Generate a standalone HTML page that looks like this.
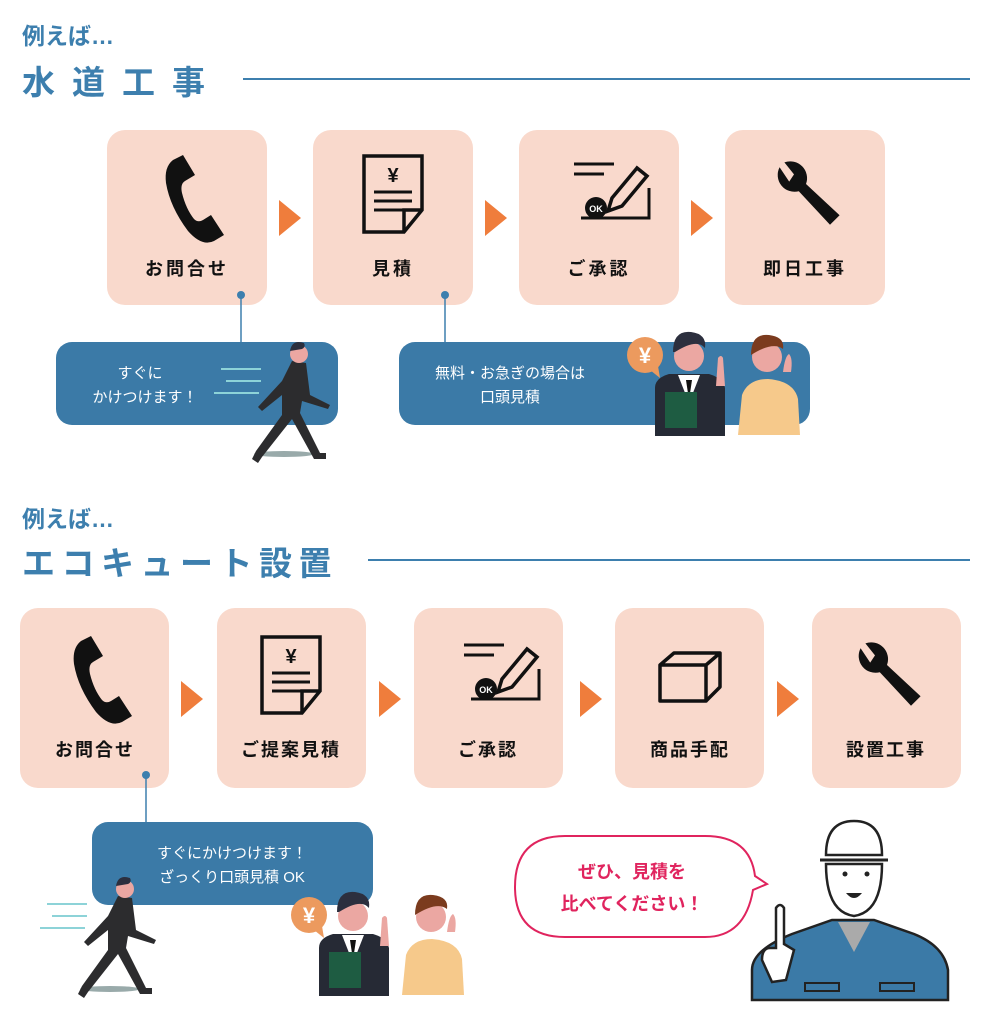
<!DOCTYPE html>
<html><head><meta charset="utf-8"><style>
html,body{margin:0;padding:0;background:#fff;}
svg{display:block}
text{font-family:"Liberation Sans","Noto Sans CJK JP",sans-serif;}
</style></head><body>
<svg width="992" height="1024" viewBox="0 0 992 1024" xmlns="http://www.w3.org/2000/svg">
<defs>
<g id="phone"><path d="M-10,-38 l10,-5 l12,20 l-10,6 q-5,3 -3,12 q4,16 12,26 q4,4 9,1 l8,-5 l13,20 l-10,6 q-12,6 -26,-10 q-18,-24 -22,-48 q-2,-16 7,-23z" fill="#111"/></g>
<g id="doc"><path d="M-29,-40 h58 v54 l-18,22 h-40z" fill="none" stroke="#111" stroke-width="3.5"/><path d="M29,14 h-18 v22" fill="none" stroke="#111" stroke-width="3.5"/><text x="0" y="-14" font-size="20" font-weight="bold" text-anchor="middle" fill="#111">¥</text><path d="M-19,-4 h38 M-19,5 h38 M-19,14 h38" stroke="#111" stroke-width="3"/></g>
<g id="ok"><path d="M-33,-32 h40 M-33,-22 h30 M-10,22 h52 v-30" stroke="#111" stroke-width="3" fill="none"/><path d="M-26,22 h16" stroke="#111" stroke-width="3"/><path d="M5,2 l25,-30 l10,8 l-25,30 l-14,5z" fill="none" stroke="#111" stroke-width="3.5"/><circle cx="-11" cy="12" r="11" fill="#111"/><text x="-11" y="16" font-size="9" font-weight="bold" fill="#fff" text-anchor="middle">OK</text></g>
<g id="wrench"><path d="M-22,-24 a14,14 0 0 0 16,20 l26,28 l8,-8 l-28,-26 a14,14 0 0 0 -18,-18 l8,10 l-4,6 z" fill="#111"/></g>
<g id="box"><path d="M-30,-12 h46 v36 h-46z M-30,-12 l14,-12 h46 l-14,12 M16,24 l14,-14 v-34" fill="none" stroke="#111" stroke-width="3.5" stroke-linejoin="round"/></g>
<g id="pair">
<circle cx="645" cy="355" r="18" fill="#ec9a5e"/><path d="M650,370 l10,8 l-2,-12z" fill="#ec9a5e"/>
<text x="645" y="363" font-size="22" font-weight="bold" fill="#fff" text-anchor="middle">¥</text>
<path d="M655,388 q0,-10 14,-14 l40,0 q14,4 16,14 l0,48 h-70z" fill="#262a35"/>
<path d="M678,375 h22 l-11,28z" fill="#fff"/><path d="M686,380 h6 l-3,20z" fill="#111"/>
<circle cx="689" cy="356" r="15" fill="#eba7a2"/><path d="M673,352 q0,-22 18,-20 q16,2 14,16 q-8,-10 -30,4z" fill="#2c2f3e"/>
<path d="M716,386 l2,-28 q3,-4 5,0 l2,28z" fill="#eba7a2"/>
<rect x="665" y="392" width="32" height="36" fill="#1e5c42"/>
<path d="M738,435 l4,-40 q6,-16 26,-16 q26,2 30,20 l2,36z" fill="#f6c98b"/>
<circle cx="767" cy="357" r="15" fill="#eba7a2"/><path d="M751,355 q0,-22 18,-20 q16,2 14,14 q-10,-8 -32,6z" fill="#7b3b1e"/>
<path d="M783,372 q2,-16 6,-18 q4,4 2,18z" fill="#eba7a2"/>
</g>
<g id="runner">
<path d="M47,904 h40 M52,916 h35 M40,928 h45" stroke="#8dd3d8" stroke-width="2"/>
<ellipse cx="110" cy="989" rx="30" ry="3" fill="#9aa"/>
<path d="M118,896 l14,2 l4,32 l20,10 l-2,4 l-26,-8 l-2,12 l20,40 l6,0 l0,6 l-12,0 l-22,-40 l-30,38 l-4,6 l-6,-4 l4,-8 l26,-36 l0,-20 l-20,16 l-4,-4 l24,-26z" fill="#2c2c2e"/>
<circle cx="125" cy="889" r="9" fill="#eba7a2"/><path d="M116,886 q2,-12 14,-8 q2,4 -2,6z" fill="#2c2f3e"/>
</g>
</defs>

<text x="22" y="44" font-size="23" font-weight="bold" fill="#3d7fae">例えば…</text>
<text x="22" y="94" font-size="33" font-weight="bold" fill="#3d7fae" letter-spacing="17">水道工事</text>
<line x1="243" y1="79" x2="970" y2="79" stroke="#3d7fae" stroke-width="2"/>

<g fill="#f9d9cc">
<rect x="107" y="130" width="160" height="175" rx="18"/>
<rect x="313" y="130" width="160" height="175" rx="18"/>
<rect x="519" y="130" width="160" height="175" rx="18"/>
<rect x="725" y="130" width="160" height="175" rx="18"/>
</g>
<g fill="#ef7d3c">
<path d="M279,200 l22,18 l-22,18z"/><path d="M485,200 l22,18 l-22,18z"/><path d="M691,200 l22,18 l-22,18z"/>
</g>
<use href="#phone" transform="translate(183,198)"/>
<use href="#doc" transform="translate(393,196)"/>
<use href="#ok" transform="translate(607,196)"/>
<use href="#wrench" transform="translate(806,196) scale(1.2)"/>
<g font-size="18" font-weight="bold" fill="#111" text-anchor="middle" letter-spacing="3">
<text x="187" y="275">お問合せ</text><text x="393" y="275">見積</text><text x="599" y="275">ご承認</text><text x="805" y="275">即日工事</text>
</g>
<g stroke="#3d7fae" stroke-width="1.5"><line x1="241" y1="295" x2="241" y2="342"/><line x1="445" y1="295" x2="445" y2="342"/></g>
<circle cx="241" cy="295" r="4" fill="#3d7fae"/><circle cx="445" cy="295" r="4" fill="#3d7fae"/>
<rect x="56" y="342" width="282" height="83" rx="16" fill="#3b7aa7"/>
<rect x="399" y="342" width="411" height="83" rx="16" fill="#3b7aa7"/>
<g font-size="15" fill="#fff" text-anchor="middle">
<text x="140" y="378">すぐに</text><text x="145" y="402">かけつけます！</text>
<text x="510" y="378">無料・お急ぎの場合は</text><text x="510" y="402">口頭見積</text>
</g>
<use href="#runner" transform="translate(174,-535)"/>
<use href="#pair"/>

<text x="22" y="527" font-size="23" font-weight="bold" fill="#3d7fae">例えば…</text>
<text x="22" y="575" font-size="33" font-weight="bold" fill="#3d7fae" letter-spacing="6.5">エコキュート設置</text>
<line x1="368" y1="560" x2="970" y2="560" stroke="#3d7fae" stroke-width="2"/>

<g fill="#f9d9cc">
<rect x="20" y="608" width="149" height="180" rx="18"/>
<rect x="217" y="608" width="149" height="180" rx="18"/>
<rect x="414" y="608" width="149" height="180" rx="18"/>
<rect x="615" y="608" width="149" height="180" rx="18"/>
<rect x="812" y="608" width="149" height="180" rx="18"/>
</g>
<g fill="#ef7d3c">
<path d="M181,681 l22,18 l-22,18z"/><path d="M379,681 l22,18 l-22,18z"/><path d="M580,681 l22,18 l-22,18z"/><path d="M777,681 l22,18 l-22,18z"/>
</g>
<use href="#phone" transform="translate(91,679)"/>
<use href="#doc" transform="translate(291,677)"/>
<use href="#ok" transform="translate(497,677)"/>
<use href="#box" transform="translate(690,677)"/>
<use href="#wrench" transform="translate(887,677) scale(1.2)"/>
<g font-size="18" font-weight="bold" fill="#111" text-anchor="middle" letter-spacing="2">
<text x="95" y="756">お問合せ</text><text x="291" y="756">ご提案見積</text><text x="488" y="756">ご承認</text><text x="690" y="756">商品手配</text><text x="886" y="756">設置工事</text>
</g>
<line x1="146" y1="775" x2="146" y2="822" stroke="#3d7fae" stroke-width="1.5"/>
<circle cx="146" cy="775" r="4" fill="#3d7fae"/>
<rect x="92" y="822" width="281" height="83" rx="16" fill="#3b7aa7"/>
<g font-size="15" fill="#fff" text-anchor="middle">
<text x="232" y="858">すぐにかけつけます！</text><text x="232" y="882">ざっくり口頭見積 OK</text>
</g>
<use href="#runner"/>
<use href="#pair" transform="translate(-336,560)"/>

<path d="M565,836 h140 q45,0 50,40 l12,8 l-14,6 q-8,47 -48,47 h-140 q-50,0 -50,-50 q0,-51 50,-51z" fill="#fff" stroke="#e0245e" stroke-width="2"/>
<g font-size="18" font-weight="bold" fill="#e0245e" text-anchor="middle">
<text x="632" y="878">ぜひ、見積を</text><text x="632" y="910">比べてください！</text>
</g>

<path d="M752,1000 v-30 q0,-20 40,-36 l40,-14 h42 l40,14 q30,12 34,36 v30z" fill="#3b7aa7" stroke="#222" stroke-width="2.5"/>
<path d="M838,922 h32 l-16,30z" fill="#aaa"/>
<rect x="805" y="983" width="34" height="8" fill="none" stroke="#222" stroke-width="2"/>
<rect x="880" y="983" width="34" height="8" fill="none" stroke="#222" stroke-width="2"/>
<path d="M826,864 q0,48 28,52 q28,-4 28,-52z" fill="#fff" stroke="#222" stroke-width="2.5"/>
<path d="M826,855 q0,-34 28,-34 q28,0 28,34z" fill="#fff" stroke="#222" stroke-width="2.5"/>
<path d="M820,860 h68" stroke="#222" stroke-width="3"/>
<circle cx="845" cy="874" r="2.5" fill="#222"/><circle cx="867" cy="874" r="2.5" fill="#222"/>
<path d="M846,893 q8,10 16,0z" fill="#222"/>
<path d="M772,982 l-10,-22 q0,-12 8,-12 l6,0 l0,-40 q4,-6 8,0 l0,36 l10,6 l-8,30z" fill="#fff" stroke="#222" stroke-width="2.5"/>
</svg>
</body></html>
